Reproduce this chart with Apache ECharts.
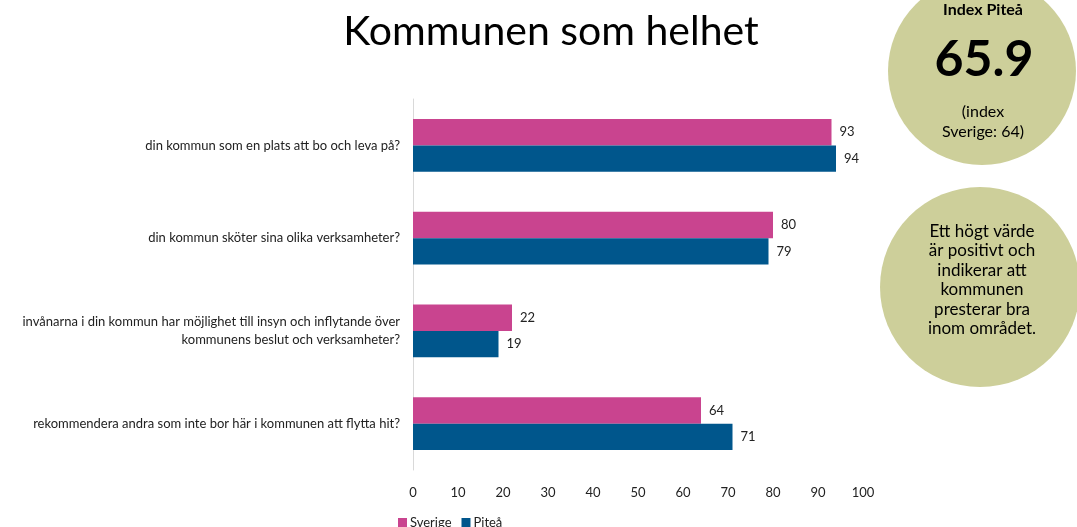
<!DOCTYPE html>
<html>
<head>
<meta charset="utf-8">
<script src="https://cdn.jsdelivr.net/npm/echarts@6/dist/echarts.min.js"></script>
<style>
  html, body { margin: 0; padding: 0; background: #fff; }
  #main { width: 1077px; height: 527px; }
</style>
</head>
<body>
<div id="main"></div>
<script>
var categories = [
    'din kommun som en plats att bo och leva på?',
    'din kommun sköter sina olika verksamheter?',
    'invånarna i din kommun har möjlighet till insyn och inflytande över\nkommunens beslut och verksamheter?',
    'rekommendera andra som inte bor här i kommunen att flytta hit?'
];
var sverige = [93, 80, 22, 64];
var pitea = [94, 79, 19, 71];
var xTicks = [0, 10, 20, 30, 40, 50, 60, 70, 80, 90, 100];

var FONT = 'Lato, "Open Sans", sans-serif';
var circleColor = '#cdcf9a';

var chart = echarts.init(document.getElementById('main'));
window.onresize = function () {
    chart.resize();
};

var option = {
    backgroundColor: '#ffffff',
    textStyle: { fontFamily: FONT },
    title: {
        text: 'Kommunen som helhet',
        left: 546,
        textAlign: 'center',
        top: 6,
        textStyle: { fontSize: 41, fontWeight: 'normal', color: '#000', fontFamily: FONT }
    },
    legend: {
        data: ['Sverige', 'Piteå'],
        left: 393,
        top: 511,
        itemWidth: 9,
        itemHeight: 9,
        itemGap: 10,
        icon: 'rect',
        textStyle: { fontSize: 13, color: '#222', padding: [0, 0, 0, -2] }
    },
    grid: {
        left: 413,
        right: 214,
        top: 99,
        bottom: 57
    },
    xAxis: {
        type: 'value',
        min: xTicks[0],
        max: xTicks[xTicks.length - 1],
        interval: 10,
        axisLine: { show: false },
        axisTick: { show: false },
        splitLine: { show: false },
        axisLabel: { fontSize: 13, color: '#222', margin: 16 }
    },
    yAxis: {
        type: 'category',
        inverse: true,
        data: categories,
        axisLine: { show: true, lineStyle: { color: '#d9d9d9', width: 1 } },
        axisTick: { show: false },
        axisLabel: { fontSize: 13, color: '#222', margin: 13, align: 'right', lineHeight: 18 }
    },
    series: [{
        name: 'Sverige',
        type: 'bar',
        data: sverige,
        barGap: '0%',
        barCategoryGap: '43%',
        itemStyle: { color: '#c9448f' },
        label: { show: true, position: 'right', distance: 8, fontSize: 13, color: '#222' }
    }, {
        name: 'Piteå',
        type: 'bar',
        data: pitea,
        itemStyle: { color: '#00568c' },
        label: { show: true, position: 'right', distance: 8, fontSize: 13, color: '#222' }
    }],
    graphic: [{
        type: 'circle',
        shape: { cx: 982, cy: 71, r: 94 },
        style: { fill: circleColor },
        silent: true
    }, {
        type: 'text',
        x: 983, y: 10,
        style: { text: 'Index Piteå', fontSize: 16, fontWeight: 'bold', fill: '#000', align: 'center', verticalAlign: 'middle', fontFamily: FONT }
    }, {
        type: 'text',
        x: 984, y: 60,
        style: { text: '65.9', fontSize: 50, fontWeight: 'bold', fill: '#000', align: 'center', verticalAlign: 'middle', fontFamily: FONT }
    }, {
        type: 'text',
        x: 983, y: 122,
        style: { text: '(index\nSverige: 64)', fontSize: 16, lineHeight: 20, fill: '#000', align: 'center', verticalAlign: 'middle', fontFamily: FONT }
    }, {
        type: 'circle',
        shape: { cx: 980, cy: 287, r: 100 },
        style: { fill: circleColor },
        silent: true
    }, {
        type: 'text',
        x: 982, y: 280,
        style: {
            text: 'Ett högt värde\när positivt och\nindikerar att\nkommunen\npresterar bra\ninom området.',
            fontSize: 17, lineHeight: 19.5, fill: '#000', align: 'center', verticalAlign: 'middle', fontFamily: FONT
        }
    }]
};
chart.setOption(option);
</script>
</body>
</html>
